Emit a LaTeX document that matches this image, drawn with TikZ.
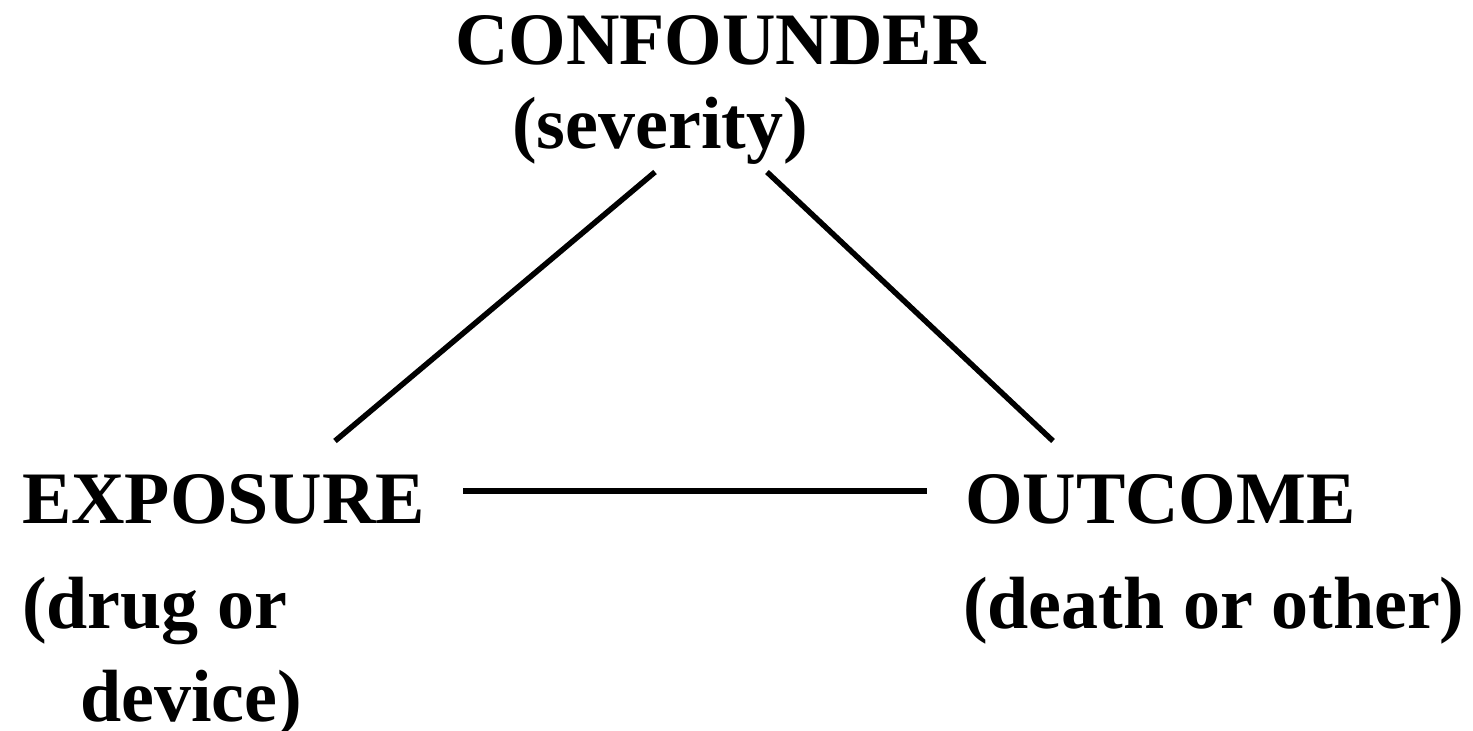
\documentclass[tikz,border=0pt]{standalone}
\usepackage{fontspec}
\setmainfont{Liberation Serif}
\begin{document}
\begin{tikzpicture}[x=1pt,y=-1pt,
  lbl/.style={anchor=base west,inner sep=0pt,font=\fontsize{74}{80}\selectfont\bfseries},
  link/.style={line width=5.5pt}]
\useasboundingbox (0,0) rectangle (1473,731);
\node[lbl] (conf) at (455,64) {CONFOUNDER};
\node[lbl] (sev) at (512,148) {(severity)};
\node[lbl] (exp) at (22,523) {EXPOSURE};
\node[lbl] (drug) at (22,628) {(drug or};
\node[lbl] (dev) at (80,721) {device)};
\node[lbl] (out) at (965,523) {OUTCOME};
\node[lbl] (death) at (963,628) {(death or other)};
\coordinate (c1) at (655,172);
\coordinate (e1) at (335,441);
\coordinate (c2) at (767,172);
\coordinate (o1) at (1053,441);
\coordinate (e2) at (463,491);
\coordinate (o2) at (927,491);
\draw[link] (c1) -- (e1);
\draw[link] (c2) -- (o1);
\draw[link] (e2) -- (o2);
\end{tikzpicture}
\end{document}
